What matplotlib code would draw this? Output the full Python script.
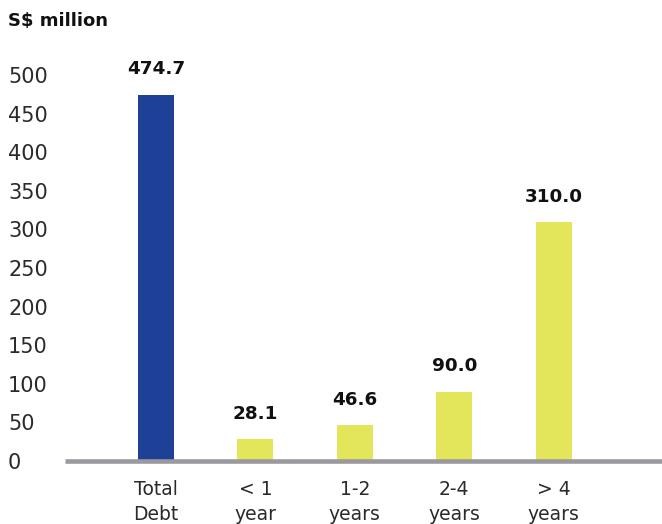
import matplotlib
matplotlib.use('Agg')
import matplotlib.pyplot as plt
import numpy as np

# données
categories = ['Total\nDebt', '< 1\nyear', '1-2\nyears', '2-4\nyears', '> 4\nyears']
valeurs = [474.7, 28.1, 46.6, 90.0, 310.0]
etiquettes = ['474.7', '28.1', '46.6', '90.0', '310.0']
yticks = list(range(0, 501, 50))

bleu = '#1E4096'
jaune = '#E3E65A'
gris = '#9A9A9E'

plt.rcParams['font.family'] = 'DejaVu Sans'

fig = plt.figure(figsize=(6.62, 5.24), dpi=100)
ax = fig.add_axes([65 / 662, 63 / 524, 597 / 662, 401.4 / 524])

x = np.arange(len(categories))
couleurs = [bleu] + [jaune] * (len(categories) - 1)
ax.bar(x, valeurs, width=0.362, color=couleurs, zorder=2)

# étiquettes de valeur
for xi, v, s in zip(x, valeurs, etiquettes):
    ax.annotate(s, (xi, v), xytext=(0, 14.5), textcoords='offset points',
                ha='center', va='baseline', fontsize=13.2, fontweight='bold',
                color='#111111', annotation_clip=False)

ax.set_xlim(-0.915, 5.09)
ax.set_ylim(0, 520)

ax.set_yticks(yticks)
ax.set_yticklabels([str(t) for t in yticks], fontsize=15, color='#2a2a2a')
for lab in ax.get_yticklabels():
    lab.set_horizontalalignment('left')
ax.tick_params(axis='y', length=0, pad=41)

ax.set_xticks(x)
ax.set_xticklabels(categories, fontsize=13.5, color='#2a2a2a', linespacing=1.35)
ax.tick_params(axis='x', length=0, pad=14)

for side in ['top', 'right', 'left']:
    ax.spines[side].set_visible(False)
ax.spines['bottom'].set_color(gris)
ax.spines['bottom'].set_linewidth(3.3)
ax.spines['bottom'].set_capstyle('butt')
ax.spines['bottom'].set_zorder(3)

fig.text(8 / 662, 1 - 20.5 / 524, 'S$ million', fontsize=13, fontweight='bold',
         ha='left', va='center', color='#111111')

fig.savefig('out.png', dpi=100)
